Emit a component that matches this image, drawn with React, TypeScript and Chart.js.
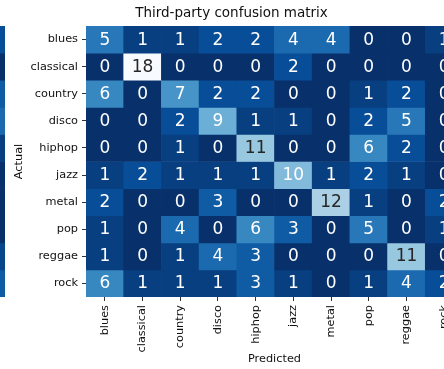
import React, { useEffect, useRef } from "react";
import { Chart, registerables } from "chart.js";

Chart.register(...registerables);

// ---- data ----
const predictedLabels = ["blues", "classical", "country", "disco", "hiphop", "jazz", "metal", "pop", "reggae", "rock"];
const actualLabels = ["blues", "classical", "country", "disco", "hiphop", "jazz", "metal", "pop", "reggae", "rock"];

const rowBlues = [5, 1, 1, 2, 2, 4, 4, 0, 0, 1];
const rowClassical = [0, 18, 0, 0, 0, 2, 0, 0, 0, 0];
const rowCountry = [6, 0, 7, 2, 2, 0, 0, 1, 2, 0];
const rowDisco = [0, 0, 2, 9, 1, 1, 0, 2, 5, 0];
const rowHiphop = [0, 0, 1, 0, 11, 0, 0, 6, 2, 0];
const rowJazz = [1, 2, 1, 1, 1, 10, 1, 2, 1, 0];
const rowMetal = [2, 0, 0, 3, 0, 0, 12, 1, 0, 2];
const rowPop = [1, 0, 4, 0, 6, 3, 0, 5, 0, 1];
const rowReggae = [1, 0, 1, 4, 3, 0, 0, 0, 11, 0];
const rowRock = [6, 1, 1, 1, 3, 1, 0, 1, 4, 2];

const matrix = [rowBlues, rowClassical, rowCountry, rowDisco, rowHiphop, rowJazz, rowMetal, rowPop, rowReggae, rowRock];

// last visible column of the neighbouring (cropped) heatmap at the left edge
const neighborColumn = [2, 0, 3, 4, 1, 0, 0, 0, 1.5, 3];

const chartTitle = "Third-party confusion matrix";
const xTitle = "Predicted";
const yTitle = "Actual";

const VMIN = 0;
const VMAX = 18;

// ---- styles ----
const FONT = "'DejaVu Sans', 'Liberation Sans', sans-serif";
const TEXT = "#111111";
const BLUES: number[][] = [
  [247, 251, 255], [222, 235, 247], [198, 219, 239], [158, 202, 225], [107, 174, 214],
  [66, 146, 198], [33, 113, 181], [8, 81, 156], [8, 48, 107],
];

function bluesRgb(v: number): number[] {
  const t = 1 - (v - VMIN) / (VMAX - VMIN);
  const p = Math.min(Math.max(t, 0), 1) * 8;
  const i = Math.min(Math.floor(p), 7);
  const f = p - i;
  return BLUES[i].map((a, k) => Math.round(a + (BLUES[i + 1][k] - a) * f));
}
function bluesR(v: number): string {
  const c = bluesRgb(v);
  return `rgb(${c[0]},${c[1]},${c[2]})`;
}
function luminance(v: number): number {
  const c = bluesRgb(v).map((x) => {
    const s = x / 255;
    return s <= 0.03928 ? s / 12.92 : Math.pow((s + 0.055) / 1.055, 2.4);
  });
  return 0.2126 * c[0] + 0.7152 * c[1] + 0.0722 * c[2];
}
function textColor(v: number): string {
  return luminance(v) > 0.5 ? "#262626" : "#ffffff";
}

const CW = 549;
const CH = 369;

const annotatePlugin = {
  id: "cellAnnotations",
  afterDatasetsDraw(chart: any) {
    const ctx = chart.ctx;
    ctx.save();
    ctx.font = `17px ${FONT}`;
    ctx.textAlign = "center";
    ctx.textBaseline = "alphabetic";
    chart.data.datasets.forEach((_ds: any, r: number) => {
      const meta = chart.getDatasetMeta(r);
      meta.data.forEach((el: any, c: number) => {
        const v = matrix[r][c];
        const { x, y, base } = el.getProps(["x", "y", "base"], true);
        ctx.fillStyle = textColor(v);
        ctx.fillText(String(v), x, (y + base) / 2 + 5);
      });
    });
    ctx.restore();
  },
};

export default function App() {
  const mainRef = useRef<HTMLCanvasElement | null>(null);
  const sideRef = useRef<HTMLCanvasElement | null>(null);

  useEffect(() => {
    const tickFont = { family: FONT, size: 11.3 };
    const main = new Chart(mainRef.current as HTMLCanvasElement, {
      type: "bar",
      data: {
        labels: predictedLabels,
        datasets: actualLabels.map((name, r) => ({
          label: name,
          data: matrix[r].map(() => [r, r + 1]),
          backgroundColor: matrix[r].map(bluesR),
          borderWidth: 0,
          barPercentage: 1,
          categoryPercentage: 1,
          grouped: false,
        })) as any,
      },
      options: {
        responsive: false,
        animation: false,
        layout: { padding: { left: 0, right: 86, top: 0, bottom: 0 } },
        plugins: {
          legend: { display: false },
          tooltip: { enabled: false },
          title: {
            display: true,
            text: chartTitle,
            color: TEXT,
            font: { family: FONT, size: 13.5, weight: "normal" },
            padding: { top: 5.7, bottom: 4.1 },
          },
        },
        scales: {
          x: {
            type: "category",
            offset: true,
            border: { display: false },
            grid: {
              display: true,
              drawOnChartArea: false,
              drawTicks: true,
              tickLength: 4,
              offset: false,
              color: "#333333",
            },
            ticks: {
              autoSkip: false,
              minRotation: 90,
              maxRotation: 90,
              padding: 4,
              color: TEXT,
              font: tickFont,
            },
            title: {
              display: true,
              text: xTitle,
              color: TEXT,
              font: tickFont,
              padding: { top: 0, bottom: 3.2 },
            },
            afterFit: (s: any) => {
              s.height = 72;
            },
          },
          y: {
            type: "linear",
            min: 0,
            max: 10,
            reverse: true,
            border: { display: false },
            grid: {
              display: true,
              drawOnChartArea: false,
              drawTicks: true,
              tickLength: 4,
              color: "#333333",
            },
            afterBuildTicks: (s: any) => {
              s.ticks = actualLabels.map((_, i) => ({ value: i + 0.5 }));
            },
            ticks: {
              padding: 4,
              color: TEXT,
              font: tickFont,
              callback: (_v: any, i: number) => actualLabels[i],
            },
            title: {
              display: true,
              text: yTitle,
              color: TEXT,
              font: tickFont,
              padding: { top: 12.7, bottom: 0 },
            },
            afterFit: (s: any) => {
              s.width = 86;
            },
          },
        },
      } as any,
      plugins: [annotatePlugin],
    });

    const side = new Chart(sideRef.current as HTMLCanvasElement, {
      type: "bar",
      data: {
        labels: [""],
        datasets: neighborColumn.map((v, r) => ({
          data: [[r, r + 1]],
          backgroundColor: bluesR(v),
          borderWidth: 0,
          barPercentage: 1,
          categoryPercentage: 1,
          grouped: false,
        })) as any,
      },
      options: {
        responsive: false,
        animation: false,
        layout: { padding: { left: 0, right: 0, top: 26, bottom: 72 } },
        plugins: { legend: { display: false }, tooltip: { enabled: false } },
        scales: {
          x: { type: "category", display: false },
          y: { type: "linear", min: 0, max: 10, reverse: true, display: false },
        },
      } as any,
    });

    return () => {
      main.destroy();
      side.destroy();
    };
  }, []);

  return (
    <div
      style={{
        position: "fixed",
        left: 0,
        top: 0,
        width: 444,
        height: 369,
        overflow: "hidden",
        background: "#ffffff",
      }}
    >
      <canvas ref={sideRef} width={5} height={CH} style={{ position: "absolute", left: 0, top: 0 }} />
      <canvas ref={mainRef} width={CW} height={CH} style={{ position: "absolute", left: 0, top: 0 }} />
    </div>
  );
}
